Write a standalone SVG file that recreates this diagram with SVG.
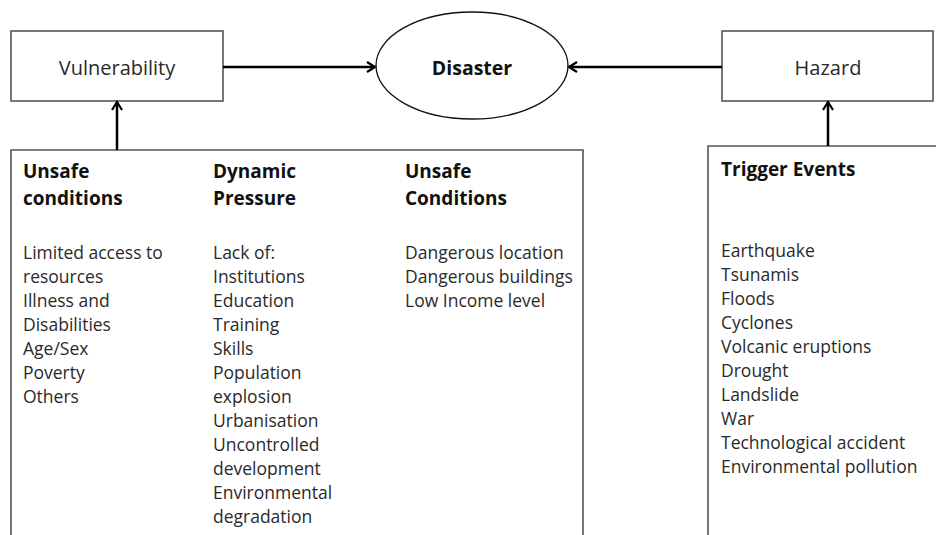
<svg xmlns="http://www.w3.org/2000/svg" width="936" height="535" viewBox="0 0 936 535">
<defs>
<style>
.box{fill:#fff;stroke:#555;stroke-width:1.6}
.t{font-family:"Open Sans","Liberation Sans",sans-serif;font-size:17.5px;fill:#2a2a2a}
.n{font-family:"Open Sans","Liberation Sans",sans-serif;font-size:20px;fill:#2a2a2a}
.h{font-family:"Open Sans","Liberation Sans",sans-serif;font-size:19px;font-weight:bold;fill:#111}
.c{stroke:#000;stroke-width:2.5;fill:none}
</style>
<marker id="ah" markerWidth="12" markerHeight="12" refX="10" refY="6" orient="auto" markerUnits="userSpaceOnUse">
<path d="M2,1 L10,6 L2,11" fill="none" stroke="#000" stroke-width="2.2"/>
</marker>
</defs>
<rect width="936" height="535" fill="#fff"/>
<g id="vulnerability">
<rect class="box" x="11" y="31" width="212" height="70"/>
<text class="n" x="117" y="75" text-anchor="middle">Vulnerability</text>
</g>
<g id="disaster">
<ellipse cx="472" cy="65.5" rx="96" ry="53.5" fill="#fff" stroke="#111" stroke-width="1.3"/>
<text class="h" x="472" y="75" text-anchor="middle" style="font-size:19.5px">Disaster</text>
</g>
<g id="hazard">
<rect class="box" x="722" y="31" width="211" height="70"/>
<text class="n" x="828" y="75" text-anchor="middle">Hazard</text>
</g>
<g id="causes">
<path class="box" d="M11,540 L11,150 L583,150 L583,540"/>
<text class="h" x="23" y="178">Unsafe</text>
<text class="h" x="23" y="205">conditions</text>
<text class="t"><tspan x="23" y="259">Limited access to</tspan><tspan x="23" y="283">resources</tspan><tspan x="23" y="307">Illness and</tspan><tspan x="23" y="331">Disabilities</tspan><tspan x="23" y="355">Age/Sex</tspan><tspan x="23" y="379">Poverty</tspan><tspan x="23" y="403">Others</tspan></text>
<text class="h" x="213" y="178">Dynamic</text>
<text class="h" x="213" y="205">Pressure</text>
<text class="t"><tspan x="213" y="259">Lack of:</tspan><tspan x="213" y="283">Institutions</tspan><tspan x="213" y="307">Education</tspan><tspan x="213" y="331">Training</tspan><tspan x="213" y="355">Skills</tspan><tspan x="213" y="379">Population</tspan><tspan x="213" y="403">explosion</tspan><tspan x="213" y="427">Urbanisation</tspan><tspan x="213" y="451">Uncontrolled</tspan><tspan x="213" y="475">development</tspan><tspan x="213" y="499">Environmental</tspan><tspan x="213" y="523">degradation</tspan></text>
<text class="h" x="405" y="178">Unsafe</text>
<text class="h" x="405" y="205">Conditions</text>
<text class="t"><tspan x="405" y="259">Dangerous location</tspan><tspan x="405" y="283">Dangerous buildings</tspan><tspan x="405" y="307">Low Income level</tspan></text>
</g>
<g id="trigger">
<path class="box" d="M708,540 L708,146 L940,146"/>
<text class="h" x="721" y="176">Trigger Events</text>
<text class="t"><tspan x="721" y="257">Earthquake</tspan><tspan x="721" y="281">Tsunamis</tspan><tspan x="721" y="305">Floods</tspan><tspan x="721" y="329">Cyclones</tspan><tspan x="721" y="353">Volcanic eruptions</tspan><tspan x="721" y="377">Drought</tspan><tspan x="721" y="401">Landslide</tspan><tspan x="721" y="425">War</tspan><tspan x="721" y="449">Technological accident</tspan><tspan x="721" y="473">Environmental pollution</tspan></text>
</g>
<g id="connectors">
<line class="c" x1="223" y1="67" x2="375" y2="67" marker-end="url(#ah)"/>
<line class="c" x1="722" y1="67" x2="569" y2="67" marker-end="url(#ah)"/>
<line class="c" x1="117" y1="150" x2="117" y2="102" marker-end="url(#ah)"/>
<line class="c" x1="828" y1="146" x2="828" y2="102" marker-end="url(#ah)"/>
</g>
</svg>
